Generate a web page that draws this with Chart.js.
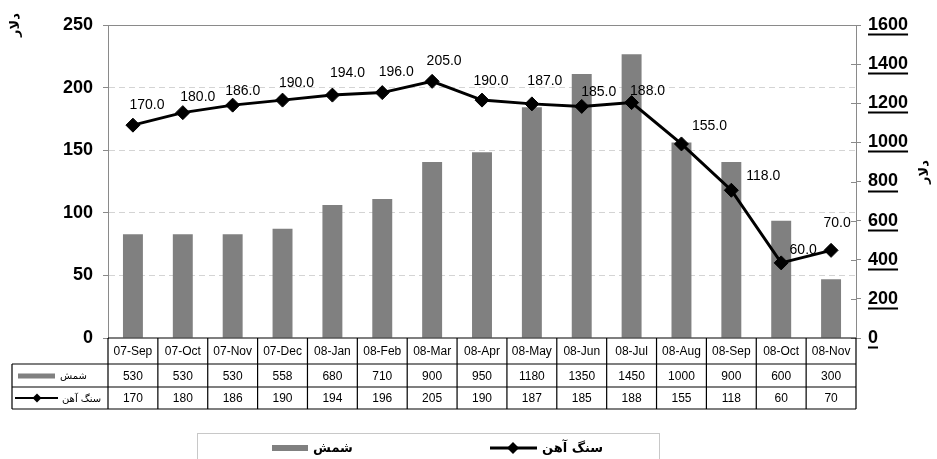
<!DOCTYPE html>
<html>
<head>
<meta charset="utf-8">
<script src="https://cdn.jsdelivr.net/npm/chart.js@4.4.1/dist/chart.umd.min.js"></script>
<style>
  html, body { margin: 0; padding: 0; background: #fff; }
  #wrap { width: 937px; height: 459px; }
</style>
</head>
<body>
<div id="wrap"><canvas id="c" width="937" height="459"></canvas></div>
<script>
// Monthly prices, Sep 2007 – Nov 2008
const months = ['07-Sep', '07-Oct', '07-Nov', '07-Dec', '08-Jan', '08-Feb', '08-Mar', '08-Apr',
                '08-May', '08-Jun', '08-Jul', '08-Aug', '08-Sep', '08-Oct', '08-Nov'];
const billetPrice = [530, 530, 530, 558, 680, 710, 900, 950, 1180, 1350, 1450, 1000, 900, 600, 300];
const orePrice = [170, 180, 186, 190, 194, 196, 205, 190, 187, 185, 188, 155, 118, 60, 70];
const leftTicks = [0, 50, 100, 150, 200, 250];
const rightTicks = [0, 200, 400, 600, 800, 1000, 1200, 1400, 1600];
const billetName = 'شمش';
const oreName = 'سنگ آهن';
const unitTitle = 'دلار';

// value-label nudges (dx, dy) relative to each ore point
const labelNudge = [[14, -20], [15, -15], [10, -14], [14, -17], [15, -22], [14, -20], [12, -20], [9, -19],
                    [13, -23], [17, -14], [16, -11], [28, -18], [32, -14], [22, -13], [6, -27]];

const FONT = '"Liberation Sans", Arial, "DejaVu Sans", sans-serif';
const FA_FONT = '"DejaVu Sans", sans-serif';
const BAR_GREY = '#808080';

function diamond(ctx, x, y, r) {
  ctx.beginPath();
  ctx.moveTo(x - r, y);
  ctx.lineTo(x, y - r);
  ctx.lineTo(x + r, y);
  ctx.lineTo(x, y + r);
  ctx.closePath();
  ctx.fill();
}

const decorations = {
  id: 'decorations',
  afterDatasetsDraw(chart) {
    const ctx = chart.ctx;
    const meta = chart.getDatasetMeta(1);
    ctx.save();
    ctx.font = '14px ' + FONT;
    ctx.fillStyle = '#000';
    ctx.textAlign = 'center';
    ctx.textBaseline = 'middle';
    meta.data.forEach((pt, i) => {
      const n = labelNudge[i] || [14, -18];
      ctx.fillText(orePrice[i].toFixed(1), pt.x + n[0], pt.y + n[1]);
    });
    ctx.restore();
  },
  afterDraw(chart) {
    const ctx = chart.ctx;
    const ca = chart.chartArea;
    const xs = chart.scales.x;
    const yR = chart.scales.y1;
    ctx.save();

    // frame top line
    ctx.strokeStyle = '#8a8a8a';
    ctx.lineWidth = 1;
    ctx.beginPath();
    ctx.moveTo(ca.left, ca.top + 0.5);
    ctx.lineTo(ca.right, ca.top + 0.5);
    ctx.stroke();

    // right axis: inner half of tick marks + underlined labels
    ctx.font = 'bold 18px ' + FONT;
    yR.ticks.forEach(t => {
      const y = Math.round(yR.getPixelForValue(t.value)) + 0.5;
      ctx.strokeStyle = '#8a8a8a';
      ctx.lineWidth = 1;
      ctx.beginPath();
      ctx.moveTo(ca.right - 5, y);
      ctx.lineTo(ca.right, y);
      ctx.stroke();
      const w = ctx.measureText(String(t.value)).width;
      ctx.fillStyle = '#000';
      ctx.fillRect(ca.right + 12, y + 8, w, 2);
    });

    // rotated unit titles
    ctx.font = 'bold 13px ' + FA_FONT;
    ctx.fillStyle = '#000';
    ctx.textAlign = 'center';
    ctx.textBaseline = 'middle';
    [[16, 25], [925, 172]].forEach(([x, y]) => {
      ctx.save();
      ctx.translate(x, y);
      ctx.rotate(-Math.PI / 2);
      ctx.fillText(unitTitle, 0, 0);
      ctx.restore();
    });

    // data table
    const n = months.length;
    const cw = (ca.right - ca.left) / n;
    const y0 = ca.bottom, y1 = 364, y2 = 387, y3 = 409;
    const tl = 12;
    ctx.strokeStyle = '#000';
    ctx.lineWidth = 1.2;
    ctx.beginPath();
    ctx.moveTo(ca.left, y0); ctx.lineTo(ca.right, y0);
    ctx.moveTo(tl, y1); ctx.lineTo(ca.right, y1);
    ctx.moveTo(tl, y2); ctx.lineTo(ca.right, y2);
    ctx.moveTo(tl, y3); ctx.lineTo(ca.right, y3);
    ctx.moveTo(tl, y1); ctx.lineTo(tl, y3);
    for (let i = 0; i <= n; i++) {
      const x = ca.left + i * cw;
      ctx.moveTo(x, y0); ctx.lineTo(x, y3);
    }
    ctx.stroke();

    ctx.font = '12px ' + FONT;
    ctx.fillStyle = '#000';
    ctx.textAlign = 'center';
    ctx.textBaseline = 'middle';
    months.forEach((m, i) => {
      const cx = xs.getPixelForValue(i);
      ctx.fillText(m, cx, (y0 + y1) / 2 + 1);
      ctx.fillText(String(billetPrice[i]), cx, (y1 + y2) / 2 + 1);
      ctx.fillText(String(orePrice[i]), cx, (y2 + y3) / 2 + 1);
    });

    // row keys
    ctx.fillStyle = BAR_GREY;
    ctx.fillRect(18, (y1 + y2) / 2 - 2, 37, 5);
    ctx.strokeStyle = '#000';
    ctx.lineWidth = 2;
    ctx.beginPath();
    ctx.moveTo(15, (y2 + y3) / 2); ctx.lineTo(58, (y2 + y3) / 2);
    ctx.stroke();
    ctx.fillStyle = '#000';
    diamond(ctx, 37, (y2 + y3) / 2, 4.5);
    ctx.font = '10px ' + FA_FONT;
    ctx.textAlign = 'left';
    ctx.fillText(billetName, 60, (y1 + y2) / 2 + 1);
    ctx.fillText(oreName, 62, (y2 + y3) / 2 + 1);

    // legend box
    ctx.strokeStyle = '#c8c8c8';
    ctx.lineWidth = 1;
    ctx.strokeRect(197.5, 433.5, 462, 40);
    ctx.fillStyle = BAR_GREY;
    ctx.fillRect(272, 445, 36, 6);
    ctx.strokeStyle = '#000';
    ctx.lineWidth = 3;
    ctx.beginPath();
    ctx.moveTo(490, 448); ctx.lineTo(537, 448);
    ctx.stroke();
    ctx.fillStyle = '#000';
    diamond(ctx, 513, 448, 6);
    ctx.font = 'bold 13px ' + FA_FONT;
    ctx.textAlign = 'left';
    ctx.fillText(billetName, 313, 449);
    ctx.fillText(oreName, 542, 449);

    ctx.restore();
  }
};

new Chart(document.getElementById('c'), {
  data: {
    labels: months,
    datasets: [
      {
        type: 'bar',
        label: billetName,
        data: billetPrice,
        yAxisID: 'y1',
        backgroundColor: BAR_GREY,
        borderWidth: 0,
        barPercentage: 0.4,
        categoryPercentage: 1,
        order: 2
      },
      {
        type: 'line',
        label: oreName,
        data: orePrice,
        yAxisID: 'y',
        borderColor: '#000',
        backgroundColor: '#000',
        borderWidth: 3,
        pointStyle: 'rectRot',
        pointRadius: 7,
        pointBorderWidth: 1,
        pointBackgroundColor: '#000',
        pointBorderColor: '#000',
        tension: 0,
        order: 1
      }
    ]
  },
  options: {
    responsive: false,
    animation: false,
    devicePixelRatio: 1,
    layout: { padding: { top: 25, bottom: 121, left: 0, right: 0 } },
    plugins: { legend: { display: false }, tooltip: { enabled: false } },
    scales: {
      x: {
        type: 'category',
        display: false,
        offset: true
      },
      y: {
        position: 'left',
        min: 0,
        max: 250,
        afterBuildTicks: s => { s.ticks = leftTicks.map(v => ({ value: v })); },
        afterFit: s => { s.width = 108; },
        ticks: {
          font: { family: FONT, size: 18, weight: 'bold' }, color: '#000', padding: 10,
          callback: v => String(v)
        },
        grid: {
          color: ctx => (ctx.tick && (ctx.tick.value === 0 || ctx.tick.value === 250)) ? 'rgba(0,0,0,0)' : '#d4d4d4',
          tickColor: '#8a8a8a',
          tickLength: 5,
          lineWidth: 1
        },
        border: { color: '#8a8a8a', width: 1, dash: [6, 4] }
      },
      y1: {
        position: 'right',
        min: 0,
        max: 1600,
        afterBuildTicks: s => { s.ticks = rightTicks.map(v => ({ value: v })); },
        afterFit: s => { s.width = 81; },
        ticks: {
          font: { family: FONT, size: 18, weight: 'bold' }, color: '#000', padding: 7,
          callback: v => String(v)
        },
        grid: { drawOnChartArea: false, tickColor: '#8a8a8a', tickLength: 5 },
        border: { color: '#8a8a8a', width: 1 }
      }
    }
  },
  plugins: [decorations]
});
</script>
</body>
</html>
